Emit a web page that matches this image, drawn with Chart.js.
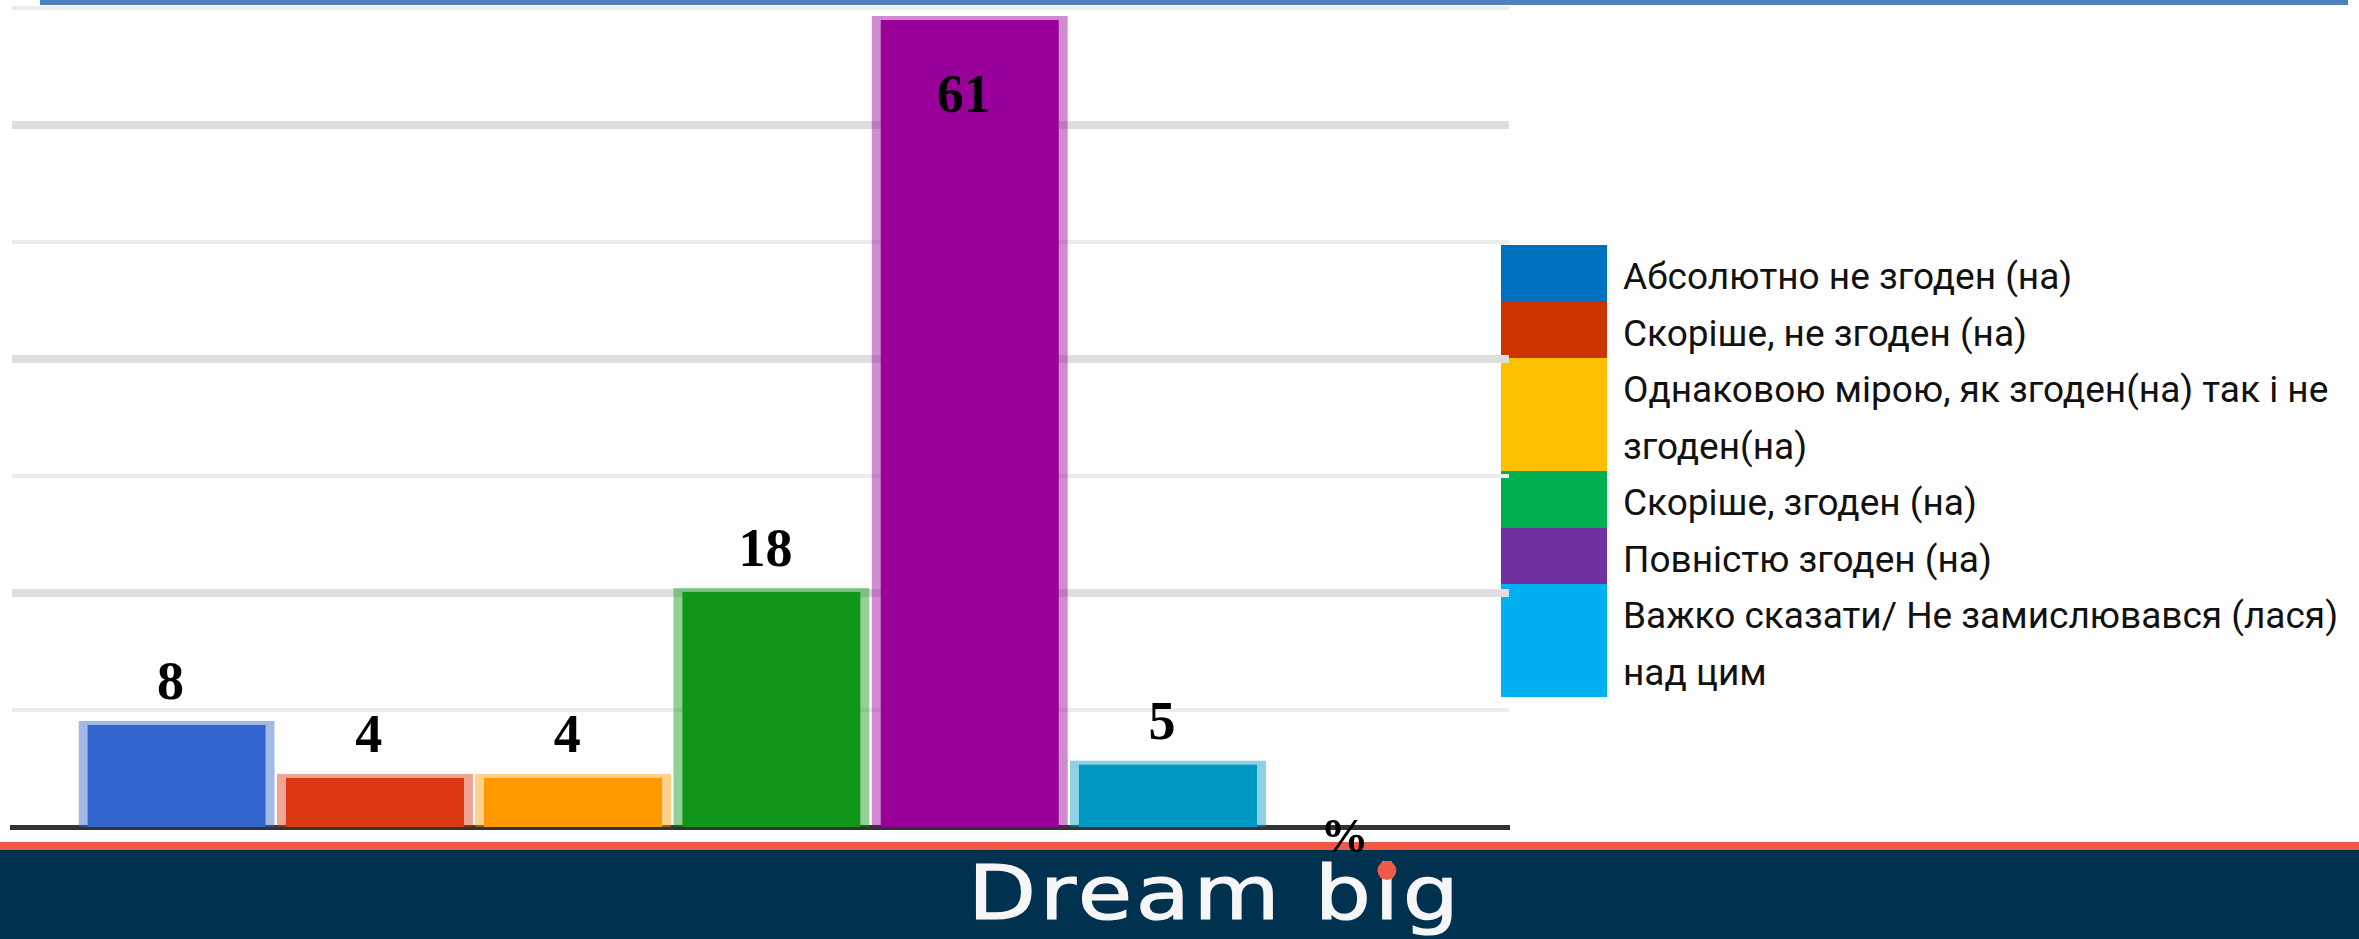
<!DOCTYPE html>
<html lang="uk">
<head>
<meta charset="utf-8">
<title>Dream big</title>
<script src="https://cdn.jsdelivr.net/npm/chart.js@4.4.1/dist/chart.umd.min.js"></script>
<style>
    html, body {
        margin: 0;
        padding: 0;
        width: 2359px;
        height: 939px;
        overflow: hidden;
        background: #ffffff;
    }
    #frame {
        position: absolute;
        left: 40px;
        top: -20px;
        width: 2308px;
        height: 25px;
        box-sizing: border-box;
        border: 5px solid #4f81bd;
        border-top: none;
    }
    #chartBox {
        position: absolute;
        left: 0;
        top: 0;
        width: 1520px;
        height: 870px;
        z-index: 2;
    }
    #legend {
        position: absolute;
        left: 1501px;
        top: 245px;
        font-family: Roboto, "Noto Sans", sans-serif;
        font-size: 37px;
        line-height: 56.5px;
        color: #111111;
    }
    #legend .item {
        display: flex;
        align-items: stretch;
    }
    #legend .swatch {
        width: 106px;
        flex: none;
    }
    #legend .text {
        margin-left: 16px;
        white-space: nowrap;
        position: relative;
        top: 4px;
    }
    #footer {
        position: absolute;
        left: 0;
        top: 842px;
        width: 2359px;
        height: 97px;
        box-sizing: border-box;
        border-top: 8px solid #f0594a;
        background: #00324f;
    }
    #brand {
        position: absolute;
        left: 968px;
        top: 856px;
        font-family: "DejaVu Sans", sans-serif;
        font-size: 75px;
        line-height: 75px;
        letter-spacing: 3px;
        color: #f6f6f6;
        -webkit-text-stroke: 1.2px #f6f6f6;
        white-space: nowrap;
        transform: scaleX(1.18);
        transform-origin: 0 0;
    }
    #brand .dot {
        position: relative;
    }
    #brand .dot::after {
        content: "";
        position: absolute;
        left: calc(0.139em - 8px);
        top: 12px;
        width: 16px;
        height: 19px;
        border-radius: 50%;
        background: #f0594a;
    }
</style>
</head>
<body>
<div id="frame"></div>
<div id="chartBox"><canvas id="agreeChart"></canvas></div>
<div id="legend"></div>
<div id="footer"></div>
<div id="brand">Dream b<span class="dot">i</span>g</div>

<script>
// Answer categories (legend lines as they wrap in the original)
const categories = [
    ["Абсолютно не згоден (на)"],
    ["Скоріше, не згоден (на)"],
    ["Однаковою мірою, як згоден(на) так і не", "згоден(на)"],
    ["Скоріше, згоден (на)"],
    ["Повністю згоден (на)"],
    ["Важко сказати/ Не замислювався (лася)", "над цим"]
];
const values = [8, 4, 4, 18, 61, 5];
const barColors = ["#3366cc", "#dc3912", "#ff9900", "#109618", "#990099", "#0099c6"];
const barEdgeColors = [
    "rgba(51, 102, 204, 0.45)",
    "rgba(220, 57, 18, 0.45)",
    "rgba(255, 153, 0, 0.45)",
    "rgba(16, 150, 24, 0.45)",
    "rgba(153, 0, 153, 0.45)",
    "rgba(0, 153, 198, 0.45)"
];
const legendColors = ["#0070c0", "#cc3300", "#ffc000", "#00b050", "#7030a0", "#00b0f0"];
const gridTicks = [0, 8.8, 17.6, 26.4, 35.2, 44, 52.8, 61.6];
const unitLabel = "%";

document.addEventListener("DOMContentLoaded", () => {
    // Legend on the right, built from the same category list
    const legend = document.getElementById("legend");
    categories.forEach((lines, i) => {
        const item = document.createElement("div");
        item.className = "item";
        const swatch = document.createElement("span");
        swatch.className = "swatch";
        swatch.style.background = legendColors[i];
        const text = document.createElement("span");
        text.className = "text";
        text.innerHTML = lines.join("<br>");
        item.appendChild(swatch);
        item.appendChild(text);
        legend.appendChild(item);
    });

    // Numbers over the bars and the "%" under the axis
    const valueLabels = {
        id: "valueLabels",
        afterDraw(chart) {
            const { ctx, chartArea, scales } = chart;
            const meta = chart.getDatasetMeta(0);
            ctx.save();
            ctx.fillStyle = "#000000";
            ctx.textAlign = "center";
            ctx.textBaseline = "alphabetic";
            ctx.font = 'bold 54px "Liberation Serif"';
            meta.data.forEach((bar, i) => {
                let y = bar.y - 22;
                if (y - 40 < chartArea.top) {
                    y = bar.y + 96; // no room above: put it inside the bar
                }
                ctx.fillText(String(values[i]), bar.x - 6, y);
            });
            ctx.font = 'bold 48px "Liberation Serif"';
            ctx.fillText(unitLabel, scales.x.getPixelForValue(6.89), scales.y.getPixelForValue(0) + 25);
            ctx.restore();
        }
    };

    const ctx = document.getElementById("agreeChart").getContext("2d");
    new Chart(ctx, {
        type: "bar",
        data: {
            datasets: [
                {
                    data: values.map((v, i) => ({ x: i + 1, y: v })),
                    backgroundColor: barColors,
                    borderColor: barEdgeColors,
                    borderWidth: { top: 4, left: 9, right: 9, bottom: 0 },
                    barPercentage: 0.99,
                    categoryPercentage: 1
                }
            ]
        },
        options: {
            responsive: true,
            maintainAspectRatio: false,
            animation: false,
            layout: {
                padding: { left: 12, right: 11, top: 8, bottom: 43 }
            },
            plugins: {
                legend: { display: false },
                tooltip: { enabled: false }
            },
            scales: {
                x: {
                    type: "linear",
                    min: 0.17,
                    max: 7.72,
                    offset: false,
                    z: 1,
                    afterBuildTicks: scale => {
                        scale.ticks = values.map((v, i) => ({ value: i + 1 }));
                    },
                    ticks: { display: false },
                    grid: { display: false, drawTicks: false },
                    border: { display: true, color: "#333333", width: 5 }
                },
                y: {
                    min: 0,
                    max: 61.6,
                    afterBuildTicks: scale => {
                        scale.ticks = gridTicks.map(v => ({ value: v }));
                    },
                    ticks: { display: false },
                    border: { display: false },
                    grid: {
                        drawTicks: false,
                        color: c => c.index === 0 ? "rgba(0,0,0,0)" : (c.index % 2 === 0 ? "#dedede" : "#ececec"),
                        lineWidth: c => c.index === 0 ? 0 : (c.index % 2 === 0 ? 8 : 4)
                    }
                }
            }
        },
        plugins: [valueLabels]
    });
});
</script>
</body>
</html>
